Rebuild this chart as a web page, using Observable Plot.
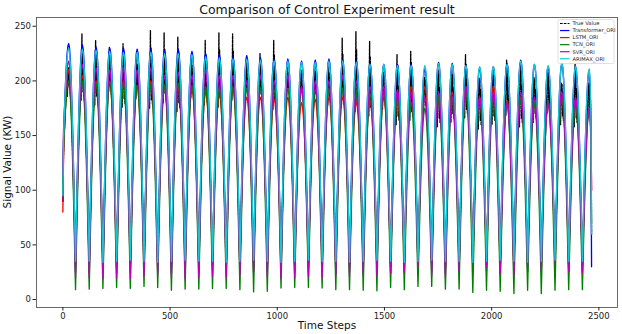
<!DOCTYPE html>
<html><head><meta charset="utf-8">
<script src="https://cdn.jsdelivr.net/npm/d3@7"></script>
<script src="https://cdn.jsdelivr.net/npm/@observablehq/plot@0.6"></script>
<style>body{margin:0;background:#fff}</style>
</head><body><div id="chart"></div>
<script>
// ---- data ----
const seriesNames = ["True Value","Transformer_ORI","LSTM_ORI","TCN_ORI","SVR_ORI","ARIMAX_ORI"];
const seriesColors = ["#000000","#0000ff","#ff0000","#008000","#bf00bf","#17c6d3"];
const xTicks = [0,500,1000,1500,2000,2500];
const yTicks = [0,50,100,150,200,250];
const firstPeak = 27, period = 63.9, lastStep = 2466;
// shape of half a cycle: fraction of amplitude at 0,4,...,32 steps from the peak
const halfProfile = [1,0.981,0.924,0.831,0.707,0.556,0.383,0.195,0];
// True Value: spike maxima, smooth crest and dips near each crest (39 cycles)
const peakTrue = [212,243,237,231,234,222,246,244,240,222,237,244,243,218,225,237,212,210,214,212,239,245,236,208,224,227,203,210,210,224,203,210,219,215,203,212,198,215,198];
const crestTrue = [205,208,206,205,206,204,207,206,205,203,204,205,204,202,203,204,202,201,202,201,203,204,202,200,201,202,198,200,200,202,198,199,200,201,198,200,196,199,195];
const dipTrue = [186,182,178,190,176,184,175,180,172,185,178,176,182,188,180,174,186,184,180,178,176,172,168,174,160,164,170,158,162,166,156,160,168,158,162,170,160,158,166];
// model peak values per cycle (39 peaks)
const peakTransformer = [234,233,231,230,230,229,229,228,229,227,225,224,222,223,221,220,220,218,219,220,219,218,216,215,215,215,211,217,216,214,212,213,216,219,215,213,216,213,210];
const peakLSTM = [210,205,200,198,200,195,200,195,195,192,190,188,192,185,185,183,185,180,183,185,185,180,182,185,183,195,195,188,190,192,185,195,182,185,180,178,185,180,175];
const peakTCN = [200,200,198,200,198,196,197,196,198,196,195,195,194,193,194,192,193,192,192,193,193,190,188,190,188,180,175,185,183,188,183,185,180,183,180,182,185,180,175];
const peakSVR = [218,215,212,210,212,210,212,205,208,205,210,205,205,200,205,200,205,195,200,200,205,200,195,195,192,190,185,190,185,195,185,190,180,190,185,180,190,185,175];
const peakARIMAX = [230,229,228,227,226,226,226,225,225,224,222,221,220,220,219,218,218,217,217,218,218,217,215,215,214,214,214,216,215,214,213,213,215,218,215,214,216,213,211];
// trough values per cycle (38 troughs)
const troughTrue = [25,25,26,24,25,25,26,24,25,25,26,24,25,25,26,24,25,25,26,24,25,25,26,24,25,25,26,24,25,25,26,24,25,25,26,24,25,25];
const troughTransformer = [31,30,31,30,31,30,31,30,31,30,31,30,31,30,31,30,31,30,31,30,31,30,31,30,31,30,31,30,31,30,31,30,31,30,31,30,31,30];
const troughLSTM = [40,40,41,40,40,41,40,40,41,40,40,41,40,40,41,40,40,41,40,40,41,40,40,41,40,40,41,40,40,41,40,40,41,40,40,41,40,40];
const troughTCN = [9,9.5,10,11,10,12,11,8.5,9.5,9.5,10,10,9,7,7.5,10.5,11,11,10.5,9,9,8.5,8,11,9,12,12,9.5,9.5,6.5,8.5,7.5,5.5,8.5,5.5,8.5,9,9];
const troughSVR = [20,20,19,20,19,21,22,20,19,20,21,20,22,24,20,19,20,21,20,22,21,23,22,24,25,30,22,20,25,34,30,24,22,30,26,34,25,24];
const troughARIMAX = [35,35,34,35,36,35,34,35,36,35,35,34,35,36,35,34,35,36,35,35,34,35,36,35,34,35,36,35,35,34,35,36,35,34,35,36,35,35];
// first and last values
const startValues = [90,90,80,100,115,95];
const endValues = [60,30,100,70,100,60];
// ---- build line points ----
const peaksAll = [crestTrue,peakTransformer,peakLSTM,peakTCN,peakSVR,peakARIMAX];
const troughsAll = [troughTrue,troughTransformer,troughLSTM,troughTCN,troughSVR,troughARIMAX];
function build(si){
  const pk = peaksAll[si], tr = troughsAll[si], pts = [];
  const add = (t,v)=>pts.push({t,v});
  add(0, startValues[si]);
  for (let j=0;j<pk.length;j++){
    const tp = firstPeak + j*period;
    const low = j===0 ? startValues[si] : tr[j-1];
    const last = j>=tr.length;
    const high = last ? endValues[si] : tr[j];
    if (si===0){
      for (let i=7;i>=2;i--){ const t=tp-4*i; if (t>0) add(t, low+(pk[j]-low)*halfProfile[i]); }
      add(tp-6, dipTrue[j]);
      add(tp-4, pk[j]-3);
      add(tp-2, peakTrue[j]);
      add(tp-1, pk[j]-8);
      add(tp+1, pk[j]+(peakTrue[j]-pk[j])*0.6);
      add(tp+3, dipTrue[j]+8);
      add(tp+5, pk[j]-6);
      add(tp+7, dipTrue[j]+4);
    } else {
      for (let i=7;i>=1;i--){ const t=tp-4*i; if (t>0) add(t, low+(pk[j]-low)*halfProfile[i]); }
      add(tp, pk[j]);
    }
    if (!last){
      for (let i=(si===0?3:1);i<=7;i++) add(tp+4*i, high+(pk[j]-high)*halfProfile[i]);
      add(tp+32, high);
    } else {
      for (let i=(si===0?2:1);i<=2;i++) add(tp+4*i, high+(pk[j]-high)*halfProfile[i*2]);
      add(lastStep, high);
    }
  }
  return pts.filter(p=>p.t<=lastStep);
}
const lines = seriesNames.map((n,i)=>Plot.line(build(i),{x:"t",y:"v",stroke:seriesColors[i],strokeWidth:1.35,
  strokeDasharray: i===0 ? "2.6,1.2" : null}));
const W=622,H=334;
const chart = Plot.plot({
  width:W,height:H,marginTop:17,marginBottom:27,marginLeft:36,marginRight:5,
  style:{fontFamily:"DejaVu Sans",fontSize:"8.5px",color:"#222",background:"#fff"},
  x:{domain:[-123,2587]},
  y:{domain:[-7.3,258]},
  marks:[
    ...lines,
    Plot.frame({stroke:"#444",strokeWidth:0.8}),
    Plot.axisX({ticks:xTicks,tickSize:3.5,tickPadding:2,label:null,tickFormat:d=>String(d)}),
    Plot.axisY({ticks:yTicks,tickSize:3.5,tickPadding:2,label:null,tickFormat:d=>String(d)})
  ]
});
document.getElementById("chart").appendChild(chart);
const svg = d3.select(chart);
svg.append("text").attr("x",327).attr("y",14).attr("text-anchor","middle").attr("font-size","12.5px").attr("fill","#111").text("Comparison of Control Experiment result");
svg.append("text").attr("x",327).attr("y",329).attr("text-anchor","middle").attr("font-size","10.5px").attr("fill","#111").text("Time Steps");
svg.append("text").attr("transform","translate(11,162) rotate(-90)").attr("text-anchor","middle").attr("font-size","10.5px").attr("fill","#111").text("Signal Value (KW)");
const lg = svg.append("g");
lg.append("rect").attr("x",558).attr("y",19.5).attr("width",56).attr("height",44).attr("rx",1.5).attr("fill","#fff").attr("fill-opacity",0.85).attr("stroke","#ccc").attr("stroke-width",0.6);
seriesNames.forEach((n,i)=>{
  const y = 23.5 + i*7.05;
  lg.append("line").attr("x1",560).attr("x2",569.5).attr("y1",y).attr("y2",y).attr("stroke",seriesColors[i]).attr("stroke-width",1.2).attr("stroke-dasharray", i===0?"2.6,1.2":null);
  lg.append("text").attr("x",572.5).attr("y",y).attr("dy","0.35em").attr("text-anchor","start").attr("font-size","5.2px").attr("fill","#222").text(n);
});
</script></body></html>
